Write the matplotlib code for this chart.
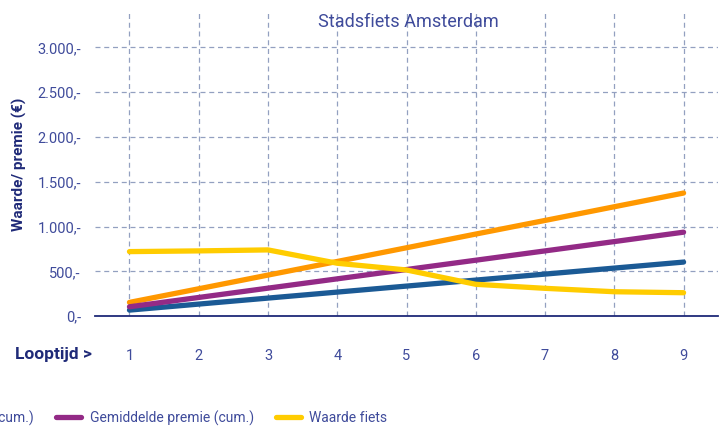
import matplotlib

matplotlib.use("Agg")
import matplotlib.pyplot as plt
from matplotlib.ticker import FixedLocator, FuncFormatter

# jaren looptijd en bedragen in euro
jaren = [1, 2, 3, 4, 5, 6, 7, 8, 9]
laagste_premie = [67, 134, 201, 268, 335, 402, 469, 536, 603]
gemiddelde_premie = [104, 208, 312, 416, 520, 624, 728, 832, 937]
hoogste_premie = [153, 305, 458, 610, 763, 916, 1068, 1221, 1374]
waarde_fiets = [720, 728, 739, 590, 515, 355, 310, 272, 261]

legend_labels = [
    "Hoogste premie (cum.)",
    "Gemiddelde premie (cum.)",
    "Waarde fiets",
]
y_ticks = [0, 500, 1000, 1500, 2000, 2500, 3000]

TEXT = "#3f4b9b"
NAVY = "#1f2a78"
GRID = "#93a0c0"

plt.rcParams["font.family"] = ["Roboto", "DejaVu Sans"]

fig = plt.figure(figsize=(7.24, 4.26), dpi=100)
ax = fig.add_axes([0.131, 0.258, 0.861, 0.719])

ax.plot(jaren, laagste_premie, color="#1b5a95", lw=3.8, solid_capstyle="round", zorder=3)
l_hoog = ax.plot(jaren, hoogste_premie, color="#ff9800", lw=3.8,
                 solid_capstyle="round", zorder=3)[0]
l_gem = ax.plot(jaren, gemiddelde_premie, color="#932a86", lw=3.8,
                solid_capstyle="round", zorder=3)[0]
l_fiets = ax.plot(jaren, waarde_fiets, color="#ffcc00", lw=3.8, solid_capstyle="round",
                  solid_joinstyle="round", zorder=4)[0]

ax.set_xlim(0.5, 9.5)
ax.set_ylim(0, 3420)
ax.xaxis.set_major_locator(FixedLocator(jaren))
ax.yaxis.set_major_locator(FixedLocator(y_ticks))
ax.yaxis.set_major_formatter(
    FuncFormatter(lambda v, _: f"{int(v):,}".replace(",", ".") + ",-")
)
ax.grid(True, color=GRID, ls=(0, (4, 3)), lw=0.9)
ax.set_axisbelow(True)

for side in ("top", "right", "left"):
    ax.spines[side].set_visible(False)
ax.spines["bottom"].set_color(NAVY)
ax.spines["bottom"].set_linewidth(1.3)

ax.tick_params(axis="x", length=0, pad=24, labelsize=10.5, labelcolor=TEXT)
ax.tick_params(axis="y", length=0, pad=10, labelsize=10.5, labelcolor=TEXT)

fig.text(0.564, 0.948, "Stadsfiets Amsterdam", ha="center", va="center",
         fontsize=13, color=TEXT)
fig.text(0.021, 1 - 354 / 426, "Looptijd >", ha="left", va="center",
         fontsize=12.5, fontweight="bold", color=NAVY)
fig.text(0.027, 1 - 164 / 426, "Waarde/ premie (€)", ha="center", va="center",
         rotation=90, fontsize=11, fontweight="bold", color=NAVY)

fig.legend([l_hoog, l_gem, l_fiets], legend_labels, ncol=3, frameon=False,
           loc="center right", bbox_to_anchor=(393 / 724, 1 - 418 / 426),
           fontsize=10, labelcolor=TEXT, handlelength=1.8, handletextpad=0.6,
           columnspacing=1.6, borderaxespad=0)

fig.savefig("out.png", dpi=100)
